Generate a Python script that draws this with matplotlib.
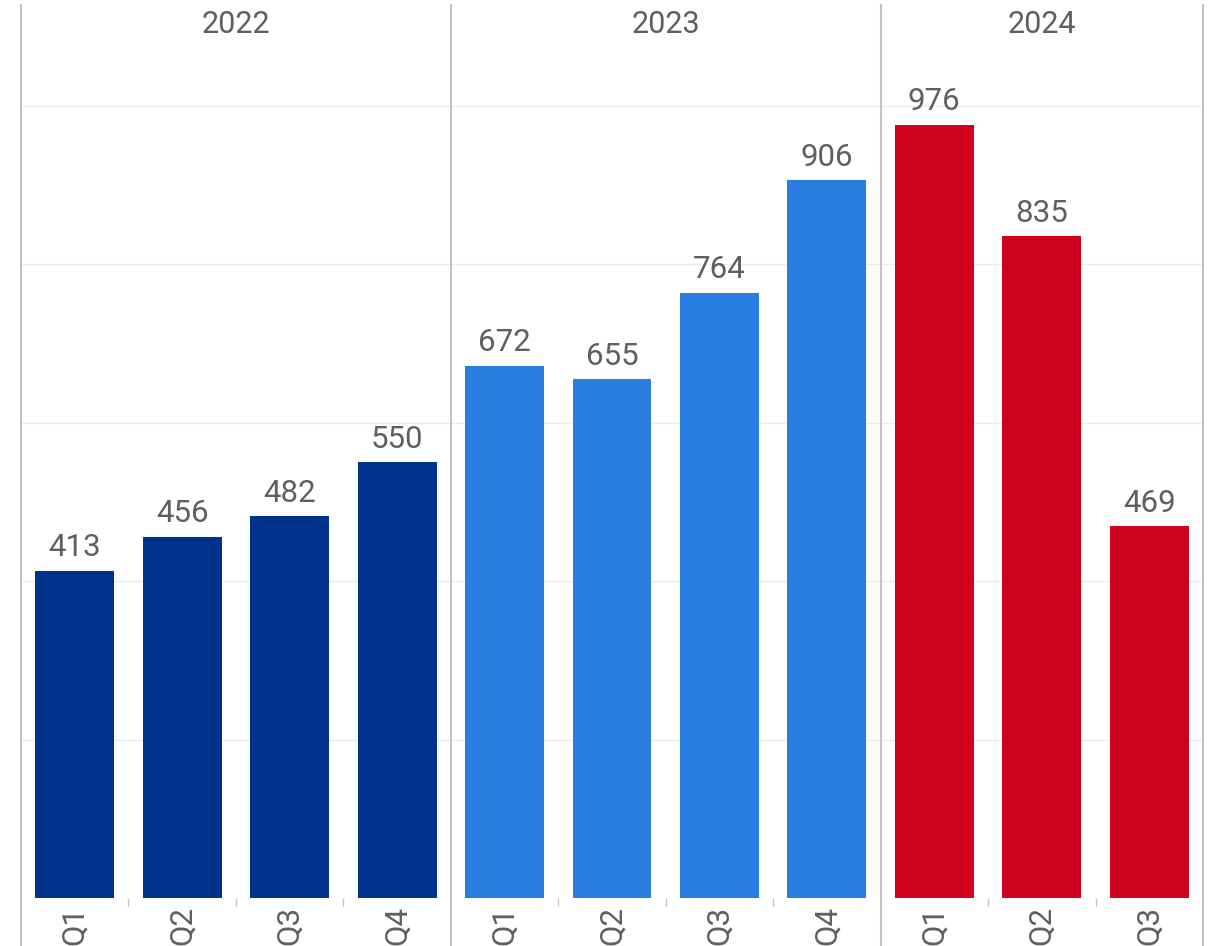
import matplotlib.pyplot as plt
import numpy as np

plt.rcParams['font.family'] = ['Roboto', 'DejaVu Sans']

years = ['2022', '2023', '2024']
quarters = [['Q1', 'Q2', 'Q3', 'Q4'], ['Q1', 'Q2', 'Q3', 'Q4'], ['Q1', 'Q2', 'Q3']]
values = [[413, 456, 482, 550], [672, 655, 764, 906], [976, 835, 469]]
colors = ['#00338D', '#2A7DE1', '#D0021B']
text_col = '#5f5f5f'

fig = plt.figure(figsize=(12.15, 9.46), dpi=100)
ax = fig.add_axes([21 / 1215, 48 / 946, 1182 / 1215, 893 / 946])

pos = 0
ticks, labels = [], []
edges = [-0.5]
for yr, qs, vals, col in zip(years, quarters, values, colors):
    x = np.arange(pos, pos + len(qs))
    ax.bar(x, vals, width=0.735, color=col, zorder=3)
    for xi, v in zip(x, vals):
        ax.annotate(str(v), (xi, v), xytext=(0, 6), textcoords='offset points',
                    ha='center', va='bottom', fontsize=22.5, color=text_col)
    ticks += list(x)
    labels += qs
    ax.text((pos - 0.5 + pos + len(qs) - 0.5) / 2, 0.978, yr,
            transform=ax.get_xaxis_transform(), ha='center', va='center',
            fontsize=22, color=text_col)
    pos += len(qs)
    edges.append(pos - 0.5)

for e in edges:
    ax.axvline(e, ymin=-0.06, ymax=1.0, color='#c4c4c4', lw=1.5, clip_on=False, zorder=4)

ax.set_xlim(-0.5, pos - 0.5)
ax.set_ylim(0, 1127)
ax.set_yticks([200, 400, 600, 800, 1000])
ax.yaxis.grid(True, color='#ececec', lw=1)
ax.tick_params(axis='y', left=False, labelleft=False)

ax.set_xticks(ticks)
ax.set_xticklabels(labels, rotation=90, fontsize=22.5, color=text_col, va='top')
ax.tick_params(axis='x', length=0, pad=6)
inner = [t + 0.5 for t in ticks[:-1] if t + 0.5 not in edges]
ax.set_xticks(inner, minor=True)
ax.tick_params(axis='x', which='minor', length=6, color='#c4c4c4', width=1)

for s in ax.spines.values():
    s.set_visible(False)

fig.savefig('out.png', dpi=100)
